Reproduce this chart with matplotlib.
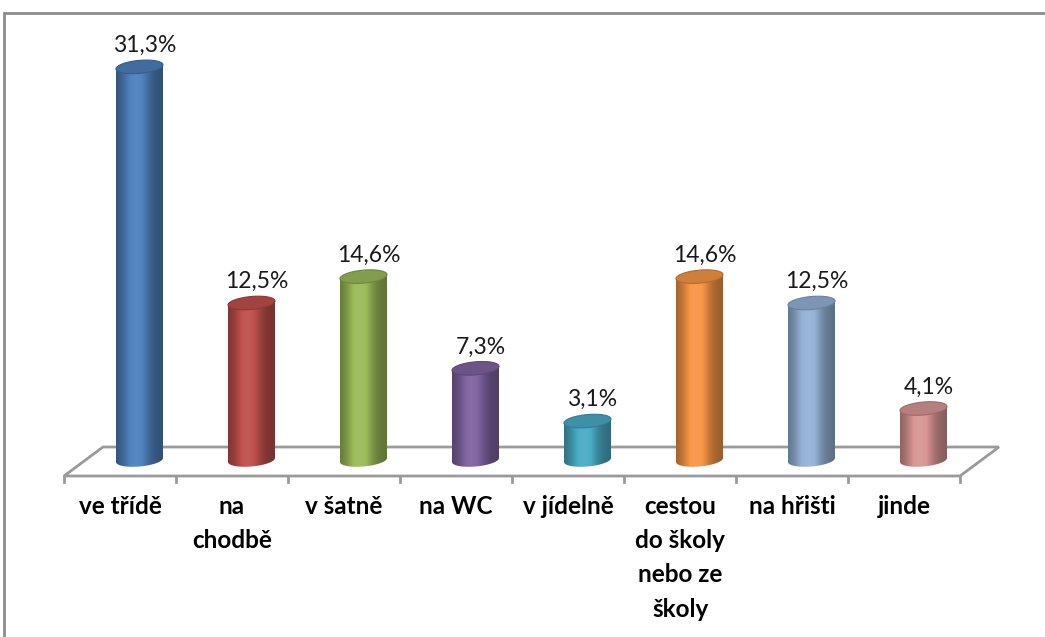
import numpy as np
import matplotlib.pyplot as plt
from matplotlib.patches import Polygon, Rectangle
from matplotlib.colors import to_rgb

categories = ["ve třídě", "na\nchodbě", "v šatně", "na WC", "v jídelně",
              "cestou\ndo školy\nnebo ze\nškoly", "na hřišti", "jinde"]
values = [31.3, 12.5, 14.6, 7.3, 3.1, 14.6, 12.5, 4.1]
colors = ["#4F81BD", "#C0504D", "#9BBB59", "#8064A2",
          "#4BACC6", "#F79646", "#95B3D7", "#D99694"]
value_labels = [f"{v:.1f}%".replace(".", ",") for v in values]

# layout in pixels -> data units
px_cat = 112.0      # pixels per category
px_pct = 12.56      # pixels per percent
x0_px, base_px = 64.0, 460.0

fig = plt.figure(figsize=(10.45, 6.37), dpi=100)
ax = fig.add_axes([0, 0, 1, 1])
ax.axis("off")

n = len(values)
yf = -16 / px_pct          # front edge of floor
yb = 13 / px_pct           # back edge of floor
depth = 39 / px_cat        # horizontal depth offset
a = 23.5 / px_cat          # cylinder half width
b = 6.5 / px_pct           # ellipse half height
k = 2.0 / px_pct           # ellipse tilt

# floor
floor = Polygon([(0, yf), (n, yf), (n + depth, yb), (depth, yb)], closed=True,
                facecolor="white", edgecolor="#9a9a9a", lw=2, zorder=1)
ax.add_patch(floor)
for i in range(n + 1):
    ax.plot([i, i], [yf, yf - 6 / px_pct], color="#9a9a9a", lw=2, zorder=1)

t = np.linspace(0, 2 * np.pi, 120)
tb = np.linspace(np.pi, 2 * np.pi, 60)
u = np.linspace(0, 1, 200)
shade = 0.62 + 0.48 * np.exp(-((u - 0.42) / 0.28) ** 2)

for i, (v, c) in enumerate(zip(values, colors)):
    cx = i + 0.5 + depth / 2
    rgb = np.array(to_rgb(c))
    # body shading
    cols = []
    for s in shade:
        if s <= 1:
            cols.append(rgb * s)
        else:
            cols.append(rgb + (1 - rgb) * (s - 1) * 0.5)
    img = np.clip(np.array(cols), 0, 1)[None, :, :]
    body_pts = [(cx - a, v - k)]
    body_pts += list(zip(cx + a * np.cos(tb), b * np.sin(tb) + k * np.cos(tb)))
    body_pts += [(cx + a, v + k)]
    body = Polygon(body_pts, closed=True, facecolor="none", edgecolor="none", zorder=2)
    ax.add_patch(body)
    im = ax.imshow(img, extent=[cx - a, cx + a, -2 * b, v + 2 * b], aspect="auto",
                   interpolation="bilinear", zorder=2)
    im.set_clip_path(body)
    # top cap
    top = Polygon(list(zip(cx + a * np.cos(t), v + b * np.sin(t) + k * np.cos(t))),
                  closed=True, facecolor=rgb * 0.84, edgecolor=rgb * 0.72,
                  lw=0.8, zorder=3)
    ax.add_patch(top)
    ax.text(cx + 5 / px_cat, v + b + 0.35, value_labels[i], ha="center", va="bottom",
            fontsize=16.5, family="Lato", color="#1a1a1a", zorder=4)

for i, cat in enumerate(categories):
    ax.text(i + 0.5, yf - 19 / px_pct, cat, ha="center", va="top",
            multialignment="center", fontsize=17.5, family="Lato",
            fontweight="bold", linespacing=1.59, color="black")

ax.set_xlim(-x0_px / px_cat, (1045 - x0_px) / px_cat)
ax.set_ylim(-(637 - base_px) / px_pct, base_px / px_pct)

fig.patches.append(Rectangle((4 / 1045, -0.2), 1.2, (637 - 13) / 637 + 0.2,
                             transform=fig.transFigure, fill=False,
                             edgecolor="#8c8c8c", lw=2))

fig.savefig("out.png", dpi=100)
